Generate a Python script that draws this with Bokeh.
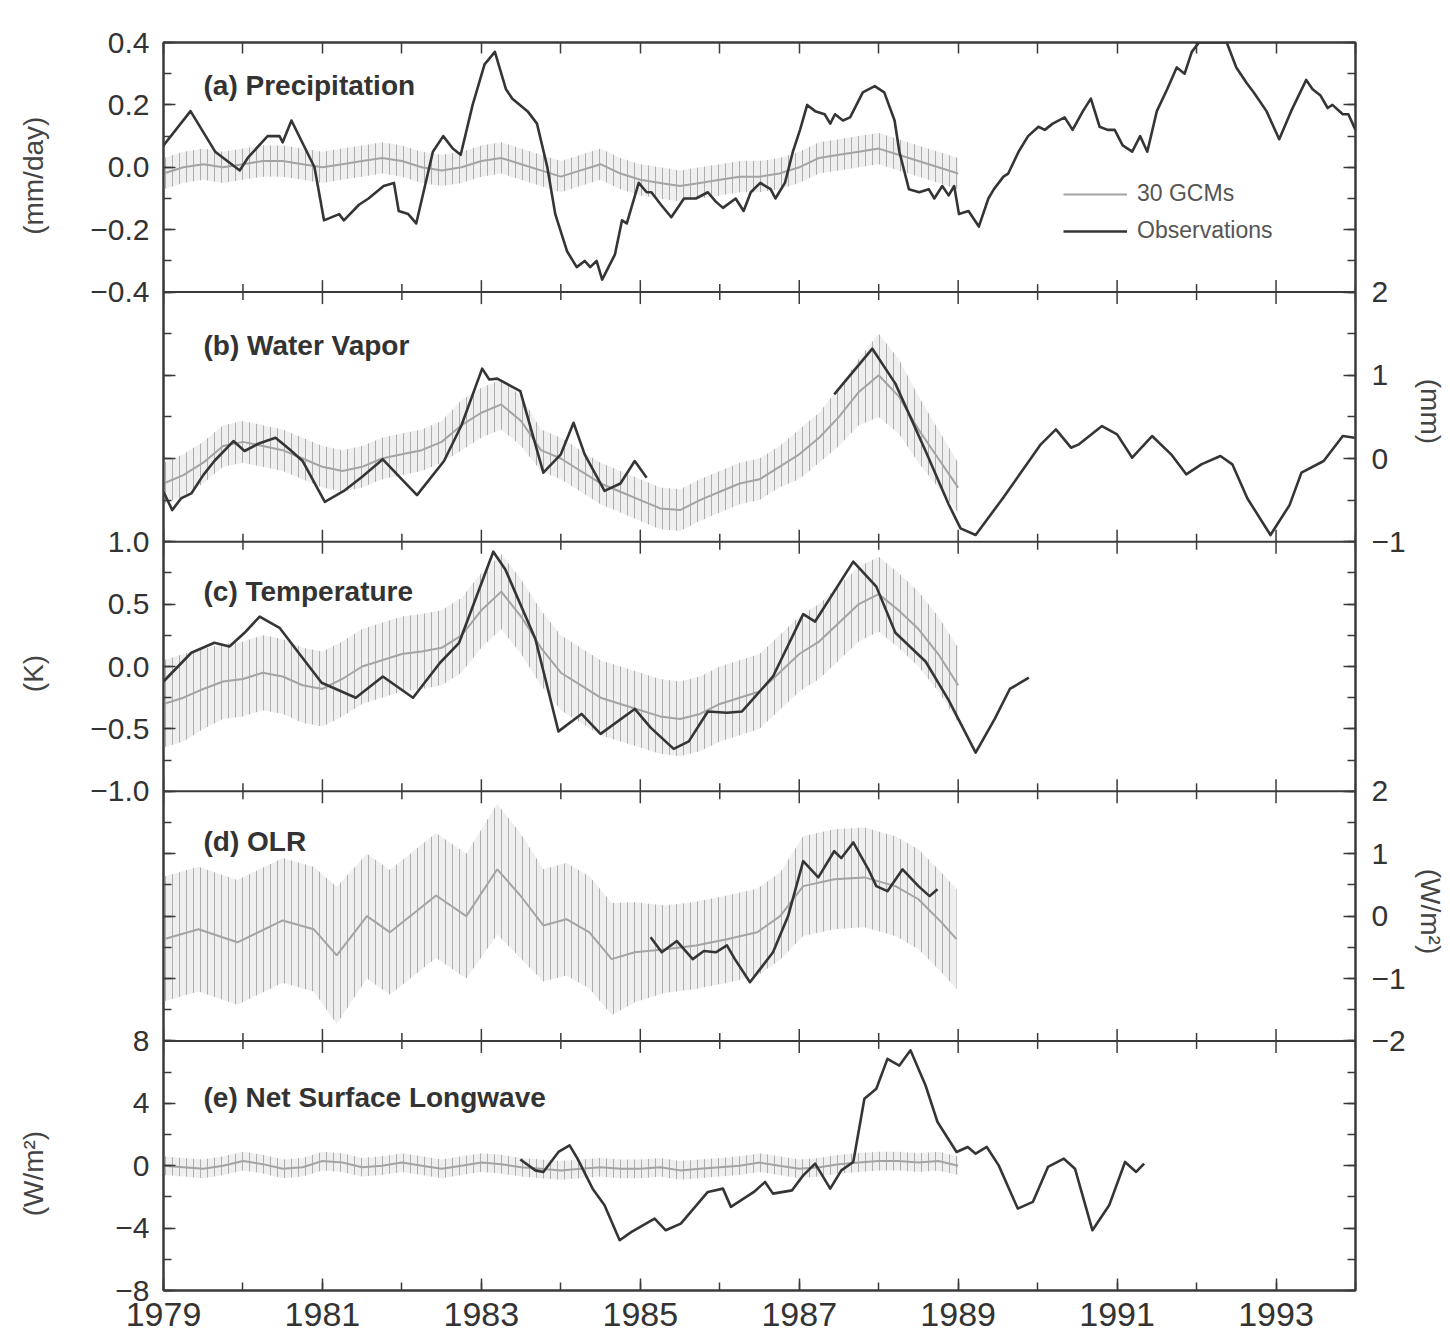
import math
from bokeh.plotting import figure
from bokeh.models import (Range1d, LinearAxis, FixedTicker, Span, Label,
                          Legend, LegendItem)
from bokeh.embed import file_html
from bokeh.resources import INLINE

# ---------------- data ----------------
x_major_ticks = [1979, 1981, 1983, 1985, 1987, 1989, 1991, 1993]
x_minor_ticks = [1979, 1980, 1981, 1982, 1983, 1984, 1985, 1986, 1987, 1988,
                 1989, 1990, 1991, 1992, 1993, 1994]

gcm_t = [1979.00, 1979.25, 1979.50, 1979.75, 1980.00, 1980.25, 1980.50, 1980.75,
         1981.00, 1981.25, 1981.50, 1981.75, 1982.00, 1982.25, 1982.50, 1982.75,
         1983.00, 1983.25, 1983.50, 1983.75, 1984.00, 1984.25, 1984.50, 1984.75,
         1985.00, 1985.25, 1985.50, 1985.75, 1986.00, 1986.25, 1986.50, 1986.75,
         1987.00, 1987.25, 1987.50, 1987.75, 1988.00, 1988.25, 1988.50, 1988.75,
         1989.00]

# (a) Precipitation (mm/day)
prec_obs_t = [1979.00, 1979.34, 1979.65, 1979.96, 1980.06, 1980.31, 1980.46, 1980.50,
              1980.61, 1980.90, 1981.02, 1981.21, 1981.27, 1981.46, 1981.58, 1981.77,
              1981.90, 1981.96, 1982.08, 1982.18, 1982.39, 1982.52, 1982.64, 1982.74,
              1982.89, 1983.04, 1983.17, 1983.31, 1983.39, 1983.58, 1983.70, 1983.83,
              1983.93, 1984.08, 1984.20, 1984.30, 1984.37, 1984.45, 1984.52, 1984.68,
              1984.77, 1984.83, 1984.98, 1985.08, 1985.14, 1985.26, 1985.39, 1985.55,
              1985.70, 1985.85, 1985.95, 1986.04, 1986.20, 1986.30, 1986.39, 1986.51,
              1986.64, 1986.70, 1986.82, 1986.92, 1987.01, 1987.10, 1987.20, 1987.32,
              1987.39, 1987.45, 1987.55, 1987.64, 1987.80, 1987.95, 1988.07, 1988.20,
              1988.26, 1988.38, 1988.51, 1988.63, 1988.70, 1988.80, 1988.88, 1988.95,
              1989.01, 1989.13, 1989.26, 1989.38, 1989.45, 1989.57, 1989.63, 1989.76,
              1989.88, 1990.01, 1990.09, 1990.19, 1990.34, 1990.44, 1990.57, 1990.67,
              1990.78, 1990.88, 1990.97, 1991.07, 1991.19, 1991.29, 1991.38, 1991.50,
              1991.63, 1991.75, 1991.85, 1991.94, 1992.03, 1992.38, 1992.50, 1992.63,
              1992.72, 1992.88, 1993.04, 1993.19, 1993.38, 1993.46, 1993.56, 1993.65,
              1993.71, 1993.84, 1993.91, 1994.00]
prec_obs_v = [0.07, 0.18, 0.05, -0.01, 0.03, 0.10, 0.10, 0.08,
              0.15, 0.00, -0.17, -0.15, -0.17, -0.12, -0.10, -0.06,
              -0.05, -0.14, -0.15, -0.18, 0.05, 0.10, 0.06, 0.04,
              0.20, 0.33, 0.37, 0.25, 0.22, 0.18, 0.14, 0.00,
              -0.15, -0.27, -0.32, -0.30, -0.32, -0.30, -0.36, -0.28,
              -0.17, -0.18, -0.05, -0.08, -0.08, -0.12, -0.16, -0.10,
              -0.10, -0.08, -0.11, -0.13, -0.10, -0.14, -0.08, -0.05,
              -0.07, -0.10, -0.05, 0.05, 0.12, 0.20, 0.18, 0.17,
              0.14, 0.17, 0.15, 0.16, 0.24, 0.26, 0.24, 0.15,
              0.05, -0.07, -0.08, -0.07, -0.10, -0.06, -0.09, -0.06,
              -0.15, -0.14, -0.19, -0.10, -0.07, -0.03, -0.02, 0.05,
              0.10, 0.13, 0.12, 0.14, 0.16, 0.12, 0.18, 0.22,
              0.13, 0.12, 0.12, 0.07, 0.05, 0.10, 0.05, 0.18,
              0.25, 0.32, 0.30, 0.37, 0.40, 0.40, 0.32, 0.27,
              0.24, 0.18, 0.09, 0.18, 0.28, 0.25, 0.23, 0.19,
              0.20, 0.17, 0.17, 0.12]
prec_gcm_v = [-0.02, 0.00, 0.01, 0.00, 0.01, 0.02, 0.02, 0.01,
              0.00, 0.01, 0.02, 0.03, 0.02, 0.00, -0.01, 0.00,
              0.02, 0.03, 0.01, -0.01, -0.03, -0.01, 0.01, -0.02,
              -0.04, -0.05, -0.06, -0.05, -0.04, -0.03, -0.03, -0.02,
              0.00, 0.03, 0.04, 0.05, 0.06, 0.04, 0.02, 0.00,
              -0.02]
prec_gcm_s = [0.05] * 41

# (b) Water vapor (mm)
wv_obs1_t = [1979.00, 1979.11, 1979.22, 1979.35, 1979.50, 1979.64, 1979.88, 1980.02,
             1980.20, 1980.41, 1980.60, 1980.75, 1981.03, 1981.27, 1981.50, 1981.76,
             1982.00, 1982.19, 1982.53, 1982.75, 1983.01, 1983.10, 1983.20, 1983.49,
             1983.78, 1984.00, 1984.16, 1984.30, 1984.55, 1984.75, 1984.93, 1985.08]
wv_obs1_v = [-0.40, -0.62, -0.48, -0.42, -0.20, -0.03, 0.21, 0.09,
             0.18, 0.25, 0.10, -0.03, -0.52, -0.39, -0.22, -0.01,
             -0.25, -0.44, -0.03, 0.40, 1.08, 0.95, 0.96, 0.81,
             -0.17, 0.05, 0.43, 0.05, -0.39, -0.30, -0.03, -0.23]
wv_obs2_t = [1987.44, 1987.92, 1988.21, 1988.59, 1988.88, 1989.03, 1989.22, 1989.56,
             1990.04, 1990.23, 1990.42, 1990.52, 1990.81, 1991.00, 1991.19, 1991.44,
             1991.68, 1991.87, 1992.06, 1992.30, 1992.45, 1992.64, 1992.93, 1993.17,
             1993.32, 1993.60, 1993.84, 1993.99]
wv_obs2_v = [0.77, 1.32, 0.90, 0.09, -0.55, -0.84, -0.92, -0.48,
             0.17, 0.35, 0.13, 0.17, 0.39, 0.29, 0.01, 0.27,
             0.05, -0.19, -0.07, 0.03, -0.07, -0.48, -0.92, -0.56,
             -0.17, -0.03, 0.27, 0.25]
wv_gcm_v = [-0.30, -0.20, -0.05, 0.15, 0.20, 0.15, 0.10, 0.00,
            -0.10, -0.15, -0.10, 0.00, 0.05, 0.10, 0.20, 0.40,
            0.55, 0.65, 0.45, 0.10, 0.00, -0.15, -0.30, -0.40,
            -0.50, -0.60, -0.62, -0.50, -0.40, -0.30, -0.25, -0.10,
            0.05, 0.25, 0.50, 0.80, 1.00, 0.75, 0.35, 0.00,
            -0.35]
wv_gcm_s = [0.25, 0.25, 0.25, 0.25, 0.25, 0.25, 0.25, 0.25,
            0.25, 0.25, 0.25, 0.25, 0.25, 0.25, 0.25, 0.30,
            0.30, 0.30, 0.30, 0.25, 0.25, 0.25, 0.25, 0.25,
            0.25, 0.25, 0.25, 0.25, 0.25, 0.25, 0.25, 0.25,
            0.30, 0.30, 0.35, 0.40, 0.50, 0.45, 0.40, 0.35,
            0.30]

# (c) Temperature (K)
temp_obs_t = [1979.00, 1979.35, 1979.64, 1979.83, 1980.02, 1980.21, 1980.46, 1980.70,
              1980.99, 1981.42, 1981.76, 1982.14, 1982.48, 1982.72, 1983.15, 1983.30,
              1983.68, 1983.97, 1984.26, 1984.50, 1984.93, 1985.13, 1985.42, 1985.61,
              1985.85, 1986.09, 1986.28, 1986.67, 1987.05, 1987.20, 1987.68, 1987.97,
              1988.21, 1988.59, 1988.88, 1989.22, 1989.46, 1989.65, 1989.89]
temp_obs_v = [-0.12, 0.11, 0.19, 0.16, 0.27, 0.40, 0.31, 0.11,
              -0.13, -0.25, -0.08, -0.25, 0.03, 0.19, 0.92, 0.78,
              0.22, -0.52, -0.38, -0.54, -0.34, -0.49, -0.66, -0.60,
              -0.36, -0.37, -0.36, -0.08, 0.42, 0.36, 0.84, 0.64,
              0.27, 0.04, -0.27, -0.69, -0.42, -0.18, -0.09]
temp_gcm_v = [-0.30, -0.25, -0.18, -0.12, -0.10, -0.05, -0.08, -0.15,
              -0.18, -0.10, 0.00, 0.05, 0.10, 0.12, 0.15, 0.25,
              0.45, 0.60, 0.40, 0.15, -0.05, -0.15, -0.25, -0.30,
              -0.35, -0.40, -0.42, -0.38, -0.30, -0.25, -0.20, -0.05,
              0.10, 0.20, 0.35, 0.50, 0.58, 0.45, 0.30, 0.10,
              -0.15]
temp_gcm_s = [0.35, 0.35, 0.32] + [0.30] * 38

# (d) OLR (W/m^2)
olr_obs_t = [1985.13, 1985.27, 1985.46, 1985.66, 1985.80, 1985.95, 1986.09, 1986.19,
             1986.38, 1986.67, 1986.86, 1987.05, 1987.24, 1987.44, 1987.53, 1987.68,
             1987.87, 1987.97, 1988.11, 1988.30, 1988.50, 1988.64, 1988.74]
olr_obs_v = [-0.34, -0.58, -0.40, -0.69, -0.56, -0.58, -0.47, -0.69,
             -1.06, -0.58, 0.00, 0.88, 0.62, 1.04, 0.93, 1.18,
             0.75, 0.48, 0.40, 0.75, 0.48, 0.32, 0.43]
olr_gcm_t = [1979.00, 1979.44, 1979.93, 1980.50, 1980.89, 1981.18, 1981.56, 1981.85,
             1982.43, 1982.81, 1983.20, 1983.49, 1983.78, 1984.07, 1984.36, 1984.64,
             1984.93, 1985.32, 1985.70, 1986.09, 1986.47, 1986.76, 1987.05, 1987.44,
             1987.82, 1988.21, 1988.50, 1988.79, 1988.98]
olr_gcm_v = [-0.37, -0.21, -0.42, -0.07, -0.21, -0.63, 0.00, -0.26,
             0.33, 0.00, 0.75, 0.33, -0.15, -0.05, -0.26, -0.69,
             -0.58, -0.53, -0.47, -0.37, -0.26, 0.00, 0.48, 0.59,
             0.62, 0.48, 0.27, -0.10, -0.37]
olr_gcm_s = [1.00, 1.00, 1.00, 1.00, 1.00, 1.10, 1.00, 1.00,
             1.00, 1.00, 1.05, 1.00, 0.90, 0.90, 0.90, 0.90,
             0.80, 0.70, 0.70, 0.70, 0.70, 0.70, 0.80, 0.80,
             0.80, 0.80, 0.80, 0.80, 0.80]

# (e) Net surface longwave (W/m^2)
nslw_obs_t = [1983.49, 1983.68, 1983.78, 1983.97, 1984.11, 1984.21, 1984.40, 1984.55,
              1984.74, 1984.89, 1985.18, 1985.32, 1985.51, 1985.85, 1986.04, 1986.14,
              1986.43, 1986.57, 1986.67, 1986.91, 1987.05, 1987.20, 1987.39, 1987.53,
              1987.68, 1987.82, 1987.97, 1988.11, 1988.26, 1988.40, 1988.59, 1988.74,
              1988.98, 1989.12, 1989.22, 1989.36, 1989.51, 1989.75, 1989.94, 1990.13,
              1990.33, 1990.47, 1990.69, 1990.90, 1991.10, 1991.24, 1991.34]
nslw_obs_v = [0.40, -0.30, -0.40, 0.88, 1.30, 0.45, -1.47, -2.54,
              -4.78, -4.24, -3.39, -4.14, -3.71, -1.68, -1.47, -2.64,
              -1.68, -1.04, -1.79, -1.58, -0.62, 0.13, -1.47, -0.30,
              0.24, 4.29, 4.93, 6.85, 6.42, 7.40, 5.14, 2.80,
              0.88, 1.20, 0.77, 1.20, 0.02, -2.75, -2.32, -0.08,
              0.45, -0.19, -4.14, -2.54, 0.24, -0.40, 0.13]
nslw_gcm_v = [0.00, -0.10, -0.20, 0.00, 0.30, 0.10, -0.20, -0.10,
              0.30, 0.20, -0.10, 0.00, 0.20, 0.00, -0.20, 0.00,
              0.20, 0.10, -0.10, -0.20, -0.30, -0.20, -0.10, -0.20,
              -0.20, -0.10, -0.30, -0.20, -0.10, 0.00, 0.20, 0.00,
              -0.20, -0.10, 0.10, 0.20, 0.30, 0.30, 0.20, 0.30,
              0.00]
nslw_gcm_s = [0.60] * 41

# panel axis ticks
prec_ticks = [-0.4, -0.2, 0.0, 0.2, 0.4]
prec_minor = [-0.4, -0.3, -0.2, -0.1, 0.0, 0.1, 0.2, 0.3, 0.4]
prec_labels = ["\u22120.4", "\u22120.2", "0.0", "0.2", "0.4"]
wv_ticks = [-1, 0, 1, 2]
wv_minor = [-1, -0.5, 0, 0.5, 1, 1.5, 2]
wv_labels = ["\u22121", "0", "1", "2"]
temp_ticks = [-1.0, -0.5, 0.0, 0.5, 1.0]
temp_minor = [-1.0, -0.75, -0.5, -0.25, 0.0, 0.25, 0.5, 0.75, 1.0]
temp_labels = ["\u22121.0", "\u22120.5", "0.0", "0.5", "1.0"]
olr_ticks = [-2, -1, 0, 1, 2]
olr_minor = [-2, -1.5, -1, -0.5, 0, 0.5, 1, 1.5, 2]
olr_labels = ["\u22122", "\u22121", "0", "1", "2"]
nslw_ticks = [-8, -4, 0, 4, 8]
nslw_minor = [-8, -6, -4, -2, 0, 2, 4, 6, 8]
nslw_labels = ["\u22128", "\u22124", "0", "4", "8"]

unit_prec, unit_wv, unit_temp, unit_olr, unit_nslw = "(mm/day)", "(mm)", "(K)", "(W/m\u00b2)", "(W/m\u00b2)"

# ---------------- styling ----------------
FONT = "Liberation Sans"
INK = "#333333"
FRAME = "#3a3a3a"
OBS = "#353535"
GCM_LINE = "#a4a4a4"
EM, SIXTH, EN = "\u2003", "\u2006", "\u2002"

# name, lo, hi, slot (0 = bottom), title, side, ticks, minor, labels, title drop
panels = [
    ("a", -0.4, 0.4, 4, "(a) Precipitation", "left", prec_ticks, prec_minor, prec_labels, 43),
    ("b", -1.0, 2.0, 3, "(b) Water Vapor", "right", wv_ticks, wv_minor, wv_labels, 53),
    ("c", -1.0, 1.0, 2, "(c) Temperature", "left", temp_ticks, temp_minor, temp_labels, 50),
    ("d", -2.0, 2.0, 1, "(d) OLR", "right", olr_ticks, olr_minor, olr_labels, 50),
    ("e", -8.0, 8.0, 0, "(e) Net Surface Longwave", "left", nslw_ticks, nslw_minor, nslw_labels, 57),
]
NP = len(panels)

p = figure(width=1448, height=1341, x_range=Range1d(1979, 1994),
           y_range=Range1d(0, NP), output_backend="svg", toolbar_location=None,
           x_axis_type=None, y_axis_type=None,
           min_border_left=163, min_border_right=83, min_border_top=42,
           min_border_bottom=51)
p.background_fill_color = "white"
p.border_fill_color = "white"
p.outline_line_color = FRAME
p.outline_line_width = 2

extra = {}
for name, lo, hi, slot, *_ in panels:
    span = hi - lo
    extra[name] = Range1d(lo - slot * span, hi + (NP - 1 - slot) * span)
p.extra_y_ranges = extra


def pos(v, lo, hi, slot):
    return round(slot + (v - lo) / (hi - lo), 6)


ticks_all, minor_all = [], []
over_l, over_r = {}, {}
for name, lo, hi, slot, title, side, tks, mnr, lbls, _ in panels:
    for v in mnr:
        minor_all.append(pos(v, lo, hi, slot))
    for v, lab in zip(tks, lbls):
        q = pos(v, lo, hi, slot)
        if q not in ticks_all:
            ticks_all.append(q)
        if side == "left":
            over_l[q] = lab
        else:
            over_r[q] = lab
for q in ticks_all:
    over_l.setdefault(q, "")
    over_r.setdefault(q, "")

axis_style = dict(axis_line_color=FRAME, axis_line_width=2,
                  major_tick_line_color=FRAME, minor_tick_line_color=FRAME,
                  major_tick_line_width=1.5, minor_tick_line_width=1.5,
                  major_tick_in=12, major_tick_out=0,
                  minor_tick_in=8, minor_tick_out=0,
                  major_label_text_font=FONT,
                  major_label_text_color=INK,
                  axis_label_text_font=FONT, axis_label_text_font_style="normal",
                  axis_label_text_color="#444444", axis_label_text_font_size="28px")

# unit labels: one per panel, spaced along the shared axis so each sits at its panel's middle
# (left axis text runs bottom->top, right axis text runs top->bottom)
left_units = unit_nslw + EM * 15 + EN + SIXTH + unit_temp + EM * 15 + unit_prec
right_units = unit_wv + EM * 15 + SIXTH + unit_olr

yl = LinearAxis(ticker=FixedTicker(ticks=sorted(ticks_all), minor_ticks=sorted(set(minor_all))),
                major_label_overrides=over_l, major_label_standoff=14,
                major_label_text_font_size="30px", axis_label=left_units,
                axis_label_standoff=38, **axis_style)
yr = LinearAxis(ticker=FixedTicker(ticks=sorted(ticks_all), minor_ticks=sorted(set(minor_all))),
                major_label_overrides=over_r, major_label_standoff=16,
                major_label_text_font_size="30px", axis_label=right_units,
                axis_label_standoff=6, **axis_style)
p.add_layout(yl, "left")
p.add_layout(yr, "right")

xb = LinearAxis(ticker=FixedTicker(ticks=x_major_ticks, minor_ticks=x_minor_ticks),
                major_label_standoff=12, major_label_text_font_size="34px", **axis_style)
xt_style = dict(axis_style)
xt_style["minor_tick_in"] = 11
xt = LinearAxis(ticker=FixedTicker(ticks=[], minor_ticks=x_minor_ticks), **xt_style)
p.add_layout(xb, "below")
p.add_layout(xt, "above")

# panel separators and the year ticks that cross them
for k in range(1, NP):
    p.add_layout(Span(location=k, dimension="width", line_color=FRAME, line_width=2))
inner = list(range(1, NP))
minor_only = [t for t in x_minor_ticks if t not in x_major_ticks]
p.scatter(x=[t for t in x_major_ticks for _ in inner], y=[k for _ in x_major_ticks for k in inner],
          marker="dash", angle=math.pi / 2, size=24, line_color=FRAME, line_width=1.5)
p.scatter(x=[t for t in minor_only for _ in inner], y=[k for _ in minor_only for k in inner],
          marker="dash", angle=math.pi / 2, size=16, line_color=FRAME, line_width=1.5)


def gcm(t, m, s, rng):
    lo = [a - b for a, b in zip(m, s)]
    hi = [a + b for a, b in zip(m, s)]
    p.varea(x=t, y1=lo, y2=hi, y_range_name=rng, fill_color="#d2d2d2", fill_alpha=0.35,
            hatch_pattern="vertical_line", hatch_color="#8c8c8c", hatch_alpha=0.65,
            hatch_scale=7, hatch_weight=1)
    return p.line(t, m, y_range_name=rng, line_color=GCM_LINE, line_width=2)


def obs(t, v, rng):
    return p.line(t, v, y_range_name=rng, line_color=OBS, line_width=2.6, line_join="round")


g_a = gcm(gcm_t, prec_gcm_v, prec_gcm_s, "a")
o_a = obs(prec_obs_t, prec_obs_v, "a")
gcm(gcm_t, wv_gcm_v, wv_gcm_s, "b")
obs(wv_obs1_t, wv_obs1_v, "b")
obs(wv_obs2_t, wv_obs2_v, "b")
gcm(gcm_t, temp_gcm_v, temp_gcm_s, "c")
obs(temp_obs_t, temp_obs_v, "c")
gcm(olr_gcm_t, olr_gcm_v, olr_gcm_s, "d")
obs(olr_obs_t, olr_obs_v, "d")
gcm(gcm_t, nslw_gcm_v, nslw_gcm_s, "e")
obs(nslw_obs_t, nslw_obs_v, "e")

# panel titles
for name, lo, hi, slot, title, side, tks, mnr, lbls, dy in panels:
    p.add_layout(Label(x=1979, y=slot + 1, x_offset=40, y_offset=-dy, text=title,
                       text_baseline="middle", text_align="left", text_font=FONT,
                       text_font_style="bold", text_font_size="28px", text_color=INK))

legend = Legend(items=[LegendItem(label="30 GCMs", renderers=[g_a]),
                       LegendItem(label="Observations", renderers=[o_a])],
                location=(900, 1046), padding=0, margin=0, spacing=10,
                glyph_width=64, glyph_height=24, label_height=24, label_standoff=10,
                label_text_font=FONT, label_text_font_size="23px",
                label_text_color="#555555", border_line_color=None,
                background_fill_alpha=0)
p.add_layout(legend)

open("out.html", "w").write(file_html(p, INLINE))
